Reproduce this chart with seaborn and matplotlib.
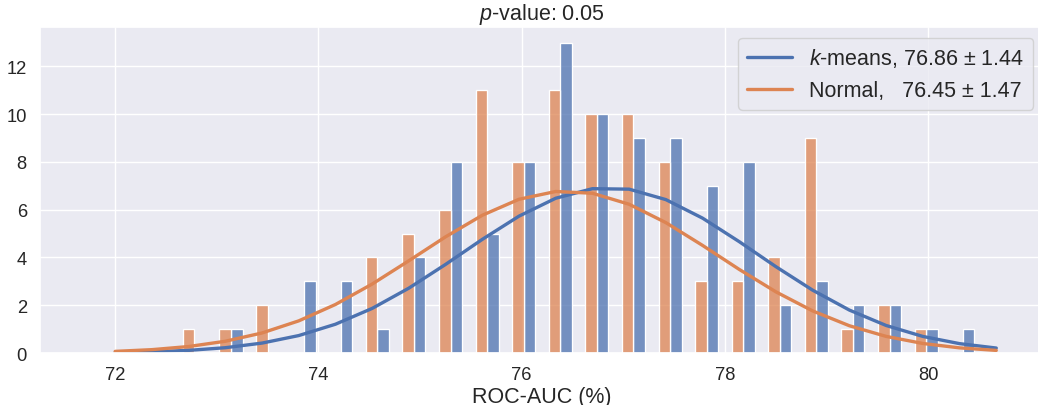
import matplotlib.pyplot as plt
import numpy as np
import pandas as pd
import seaborn as sns
from matplotlib.lines import Line2D

# ROC-AUC histogram: bin centres (%) and runs per bin
bin_centers = [72.78, 73.14, 73.50, 73.86, 74.22, 74.58, 74.94, 75.30, 75.66, 76.02, 76.38,
               76.74, 77.10, 77.46, 77.82, 78.18, 78.54, 78.90, 79.26, 79.62, 79.98, 80.34]
normal_counts = [1, 1, 2, 0, 0, 4, 5, 6, 11, 8, 11, 10, 10, 8, 3, 3, 4, 9, 1, 2, 1, 0]
kmeans_counts = [0, 1, 0, 3, 3, 1, 4, 8, 5, 8, 13, 10, 9, 9, 7, 8, 2, 3, 2, 2, 1, 1]
bin_width = 0.36

# Normal fit per method (mean, std from the legend), scaled to the count axis
methods = ["Normal", "k-means"]  # dodge order: Normal left, k-means right
fit_means = {"k-means": 76.86, "Normal": 76.45}
fit_stds = {"k-means": 1.44, "Normal": 1.47}
fit_scale = 25.0
fit_range = (72.0, 80.67)
fit_points = 25

legend_labels = ["$k$-means, 76.86 ± 1.44", "Normal,   76.45 ± 1.47"]
title = "$p$-value: 0.05"

# One row per run
df = pd.DataFrame({
    "auc": np.concatenate([np.repeat(bin_centers, normal_counts), np.repeat(bin_centers, kmeans_counts)]),
    "method": ["Normal"] * sum(normal_counts) + ["k-means"] * sum(kmeans_counts),
})
edges = np.append(np.array(bin_centers) - bin_width / 2, bin_centers[-1] + bin_width / 2)

# Fitted normal curves
grid = np.linspace(*fit_range, fit_points)
curves = pd.concat([
    pd.DataFrame({
        "auc": grid,
        "count": fit_scale * np.exp(-0.5 * ((grid - fit_means[m]) / fit_stds[m]) ** 2)
        / (fit_stds[m] * np.sqrt(2 * np.pi)),
        "method": m,
    })
    for m in ["k-means", "Normal"]
])

sns.set_theme(style="darkgrid", font_scale=1.2)
plt.rcParams["font.family"] = ["Liberation Sans", "DejaVu Sans"]
plt.rcParams["mathtext.fontset"] = "custom"
plt.rcParams["mathtext.rm"] = "Liberation Sans"
plt.rcParams["mathtext.it"] = "Liberation Sans:italic"

deep = sns.color_palette("deep")
palette = {"k-means": deep[0], "Normal": deep[1]}

fig, ax = plt.subplots(figsize=(10.38, 4.06), dpi=100)
# the axes runs slightly past the right edge of the image, as in the original crop
fig.subplots_adjust(left=0.0385, right=1.0058, bottom=0.128, top=0.931)

sns.histplot(data=df, x="auc", hue="method", hue_order=methods, palette=palette, bins=edges,
             multiple="dodge", shrink=0.63, legend=False, ax=ax)
sns.lineplot(data=curves, x="auc", y="count", hue="method", palette=palette,
             linewidth=2.4, legend=False, ax=ax)

handles = [Line2D([], [], color=palette[m], linewidth=2.4) for m in ["k-means", "Normal"]]
ax.legend(handles, legend_labels, loc="upper right", fontsize=15.5, handlelength=2.1)

ax.set_xlim(71.26, 81.14)
ax.set_ylim(0, max(normal_counts + kmeans_counts) * 1.05)
ax.set_xticks([72, 74, 76, 78, 80])
ax.set_title(title, fontsize=15.5)
ax.set_xlabel("ROC-AUC (%)", fontsize=15.5, labelpad=2)
ax.set_ylabel("")

plt.savefig("out.png", dpi=100)
